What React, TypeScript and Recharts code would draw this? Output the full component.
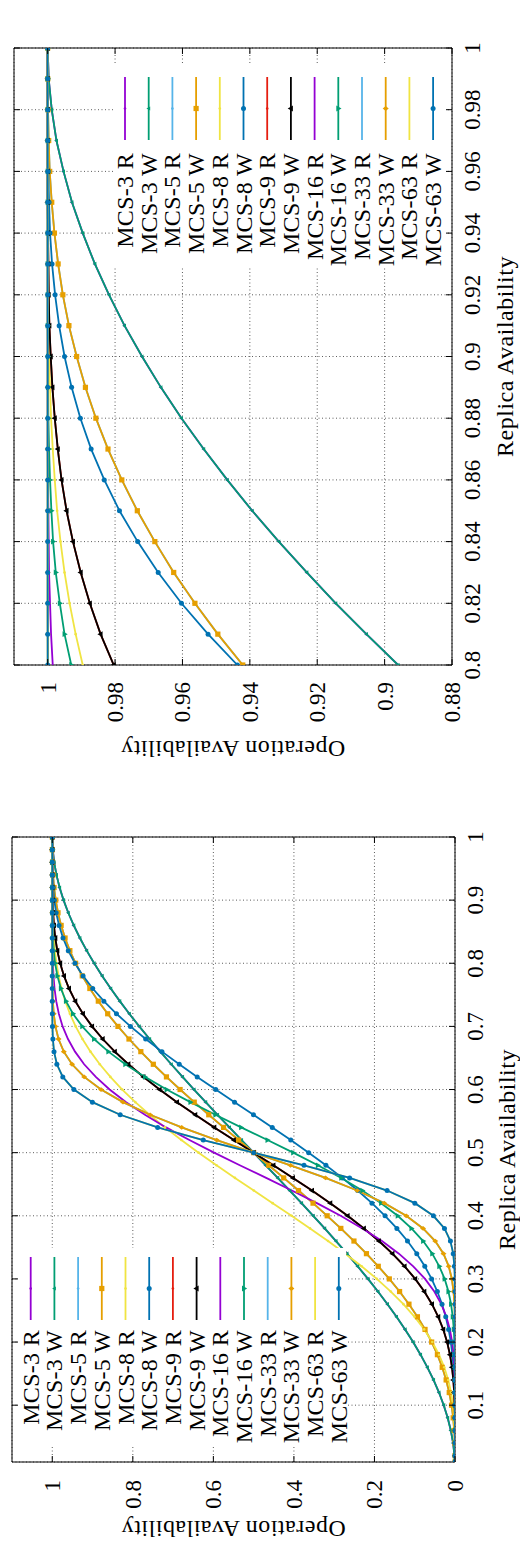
import React from "react";
import { LineChart, Line, XAxis, YAxis, CartesianGrid, ReferenceArea } from "recharts";

const W = 772;
const H = 520;
const FONT = "'Liberation Serif', 'Times New Roman', serif";

// zoomed panel: replica availability 0.8 .. 1
const pZoom = [0.8, 0.81, 0.82, 0.83, 0.84, 0.85, 0.86, 0.87, 0.88, 0.89, 0.9, 0.91, 0.92, 0.93, 0.94, 0.95, 0.96, 0.97, 0.98, 0.99, 1];
const zoomMcs3 = [0.896, 0.9054, 0.9145, 0.9231, 0.9314, 0.9393, 0.9467, 0.9537, 0.9603, 0.9664, 0.972, 0.9772, 0.9818, 0.986, 0.9896, 0.9928, 0.9953, 0.9974, 0.9988, 0.9997, 1];
const zoomMcs5 = [0.9421, 0.9495, 0.9563, 0.9626, 0.9682, 0.9734, 0.978, 0.9821, 0.9857, 0.9888, 0.9914, 0.9937, 0.9955, 0.9969, 0.998, 0.9988, 0.9994, 0.9997, 0.9999, 1, 1];
const zoomMcs8R = [0.9896, 0.9917, 0.9935, 0.995, 0.9962, 0.9972, 0.9979, 0.9985, 0.999, 0.9993, 0.9996, 0.9997, 0.9999, 0.9999, 1, 1, 1, 1, 1, 1, 1];
const zoomMcs8W = [0.9437, 0.9524, 0.9603, 0.9672, 0.9733, 0.9787, 0.9832, 0.9871, 0.9903, 0.9929, 0.995, 0.9966, 0.9978, 0.9987, 0.9993, 0.9996, 0.9998, 1, 1, 1, 1];
const zoomMcs9 = [0.9804, 0.9843, 0.9875, 0.9902, 0.9925, 0.9944, 0.9959, 0.997, 0.9979, 0.9986, 0.9991, 0.9995, 0.9997, 0.9998, 0.9999, 1, 1, 1, 1, 1, 1];
const zoomMcs16R = [0.9985, 0.999, 0.9993, 0.9996, 0.9997, 0.9998, 0.9999, 1, 1, 1, 1, 1, 1, 1, 1, 1, 1, 1, 1, 1, 1];
const zoomMcs16W = [0.993, 0.995, 0.9964, 0.9976, 0.9984, 0.9989, 0.9993, 0.9996, 0.9998, 0.9999, 0.9999, 1, 1, 1, 1, 1, 1, 1, 1, 1, 1];
const zoomMcs33 = [0.99995, 0.99998, 1, 1, 1, 1, 1, 1, 1, 1, 1, 1, 1, 1, 1, 1, 1, 1, 1, 1, 1];
const zoomMcs63 = [1, 1, 1, 1, 1, 1, 1, 1, 1, 1, 1, 1, 1, 1, 1, 1, 1, 1, 1, 1, 1];

// full panel: replica availability 0.01 .. 1
const pFull = [0.01, 0.02, 0.04, 0.06, 0.08, 0.1, 0.12, 0.14, 0.16, 0.18, 0.2, 0.22, 0.24, 0.26, 0.28, 0.3, 0.32, 0.34, 0.36, 0.38, 0.4, 0.42, 0.44, 0.46, 0.48, 0.5, 0.52, 0.54, 0.56, 0.58, 0.6, 0.62, 0.64, 0.66, 0.68, 0.7, 0.72, 0.74, 0.76, 0.78, 0.8, 0.82, 0.84, 0.86, 0.88, 0.9, 0.92, 0.94, 0.96, 0.98, 1];
const fullMcs3 = [0.0003, 0.0012, 0.0047, 0.0104, 0.0182, 0.028, 0.0397, 0.0533, 0.0686, 0.0855, 0.104, 0.1239, 0.1452, 0.1676, 0.1913, 0.216, 0.2417, 0.2682, 0.2955, 0.3235, 0.352, 0.381, 0.4104, 0.4401, 0.47, 0.5, 0.53, 0.5599, 0.5896, 0.619, 0.648, 0.6765, 0.7045, 0.7318, 0.7583, 0.784, 0.8087, 0.8324, 0.8548, 0.8761, 0.896, 0.9145, 0.9314, 0.9467, 0.9603, 0.972, 0.9818, 0.9896, 0.9953, 0.9988, 1];
const fullMcs5 = [0, 0.0001, 0.0006, 0.002, 0.0045, 0.0086, 0.0143, 0.022, 0.0318, 0.0437, 0.0579, 0.0744, 0.0933, 0.1143, 0.1376, 0.1631, 0.1905, 0.2199, 0.2509, 0.2835, 0.3174, 0.3525, 0.3886, 0.4253, 0.4625, 0.5, 0.5375, 0.5747, 0.6114, 0.6475, 0.6826, 0.7165, 0.7491, 0.7801, 0.8095, 0.8369, 0.8624, 0.8857, 0.9067, 0.9256, 0.9421, 0.9563, 0.9682, 0.978, 0.9857, 0.9914, 0.9955, 0.998, 0.9994, 0.9999, 1];
const fullMcs8R = [0, 0, 0.0002, 0.0007, 0.0022, 0.005, 0.0097, 0.0168, 0.0267, 0.0397, 0.0563, 0.0765, 0.1004, 0.1281, 0.1594, 0.1941, 0.2319, 0.2724, 0.3153, 0.3599, 0.4059, 0.4527, 0.4996, 0.5463, 0.5922, 0.6367, 0.6795, 0.7202, 0.7584, 0.7938, 0.8263, 0.8557, 0.882, 0.9051, 0.925, 0.942, 0.9562, 0.9678, 0.977, 0.9842, 0.9896, 0.9935, 0.9962, 0.9979, 0.999, 0.9996, 0.9999, 1, 1, 1, 1];
const fullMcs8W = [0, 0, 0, 0, 0.0001, 0.0004, 0.001, 0.0021, 0.0038, 0.0065, 0.0104, 0.0158, 0.023, 0.0322, 0.0438, 0.058, 0.075, 0.0949, 0.118, 0.1443, 0.1737, 0.2062, 0.2416, 0.2798, 0.3205, 0.3633, 0.4078, 0.4537, 0.5004, 0.5473, 0.5941, 0.6401, 0.6847, 0.7276, 0.7681, 0.8059, 0.8406, 0.8719, 0.8996, 0.9235, 0.9437, 0.9603, 0.9733, 0.9832, 0.9903, 0.995, 0.9978, 0.9993, 0.9998, 1, 1];
const fullMcs9 = [0, 0, 0, 0.0001, 0.0003, 0.0009, 0.0021, 0.0041, 0.0075, 0.0125, 0.0196, 0.0291, 0.0416, 0.0571, 0.0762, 0.0988, 0.1252, 0.1553, 0.189, 0.2262, 0.2666, 0.3097, 0.3551, 0.4024, 0.4509, 0.5, 0.5491, 0.5976, 0.6449, 0.6903, 0.7334, 0.7738, 0.811, 0.8447, 0.8748, 0.9012, 0.9238, 0.9429, 0.9584, 0.9709, 0.9804, 0.9875, 0.9925, 0.9959, 0.9979, 0.9991, 0.9997, 0.9999, 1, 1, 1];
const fullMcs16R = [0, 0, 0, 0, 0, 0.0001, 0.0002, 0.0007, 0.0016, 0.0036, 0.007, 0.0127, 0.0214, 0.034, 0.0514, 0.0744, 0.1037, 0.1393, 0.1813, 0.2302, 0.284, 0.343, 0.4051, 0.4689, 0.5344, 0.5982, 0.6595, 0.7176, 0.7698, 0.8166, 0.8577, 0.8919, 0.9209, 0.9435, 0.961, 0.9743, 0.9837, 0.9902, 0.9944, 0.997, 0.9985, 0.9993, 0.9997, 0.9999, 1, 1, 1, 1, 1, 1, 1];
const fullMcs16W = [0, 0, 0, 0, 0, 0, 0, 0.0001, 0.0003, 0.0007, 0.0015, 0.003, 0.0056, 0.0098, 0.0163, 0.0257, 0.039, 0.0565, 0.0791, 0.1081, 0.1423, 0.1834, 0.2302, 0.2824, 0.3405, 0.4018, 0.4656, 0.5311, 0.5949, 0.657, 0.716, 0.7698, 0.8187, 0.8607, 0.8963, 0.9256, 0.9486, 0.966, 0.9786, 0.9873, 0.993, 0.9964, 0.9984, 0.9993, 0.9998, 0.9999, 1, 1, 1, 1, 1];
const fullMcs33 = [0, 0, 0, 0, 0, 0, 0, 0, 0, 0, 0.0001, 0.0002, 0.0006, 0.0015, 0.0036, 0.0078, 0.0155, 0.0286, 0.0491, 0.0793, 0.1211, 0.1756, 0.2429, 0.3214, 0.4084, 0.5, 0.5916, 0.6786, 0.7571, 0.8244, 0.8789, 0.9207, 0.9509, 0.9714, 0.9845, 0.9922, 0.9964, 0.9985, 0.9994, 0.9998, 0.9999, 1, 1, 1, 1, 1, 1, 1, 1, 1, 1];
const fullMcs63 = [0, 0, 0, 0, 0, 0, 0, 0, 0, 0, 0, 0, 0, 0, 0.0001, 0.0004, 0.0015, 0.0044, 0.0114, 0.0261, 0.0537, 0.0997, 0.1686, 0.2616, 0.3749, 0.5, 0.6251, 0.7384, 0.8314, 0.9003, 0.9463, 0.9739, 0.9886, 0.9956, 0.9985, 0.9996, 0.9999, 1, 1, 1, 1, 1, 1, 1, 1, 1, 1, 1, 1, 1, 1];

const xTicksZoom = [0.8, 0.82, 0.84, 0.86, 0.88, 0.9, 0.92, 0.94, 0.96, 0.98, 1];
const yTicksZoom = [0.88, 0.9, 0.92, 0.94, 0.96, 0.98, 1];
const xTicksFull = [0.1, 0.2, 0.3, 0.4, 0.5, 0.6, 0.7, 0.8, 0.9, 1];
const yTicksFull = [0, 0.2, 0.4, 0.6, 0.8, 1];

const series = [
  { key: "mcs3R", name: "MCS-3 R", color: "#9400d3", shape: "dot" },
  { key: "mcs3W", name: "MCS-3 W", color: "#009e73", shape: "smalltri" },
  { key: "mcs5R", name: "MCS-5 R", color: "#56b4e9", shape: "dot" },
  { key: "mcs5W", name: "MCS-5 W", color: "#e69f00", shape: "square" },
  { key: "mcs8R", name: "MCS-8 R", color: "#f0e442", shape: "dot" },
  { key: "mcs8W", name: "MCS-8 W", color: "#0072b2", shape: "circle" },
  { key: "mcs9R", name: "MCS-9 R", color: "#e51e10", shape: "dot" },
  { key: "mcs9W", name: "MCS-9 W", color: "#000000", shape: "tri" },
  { key: "mcs16R", name: "MCS-16 R", color: "#9400d3", shape: "none" },
  { key: "mcs16W", name: "MCS-16 W", color: "#009e73", shape: "invtri" },
  { key: "mcs33R", name: "MCS-33 R", color: "#56b4e9", shape: "none" },
  { key: "mcs33W", name: "MCS-33 W", color: "#e69f00", shape: "diamond" },
  { key: "mcs63R", name: "MCS-63 R", color: "#f0e442", shape: "none" },
  { key: "mcs63W", name: "MCS-63 W", color: "#0072b2", shape: "circle" },
];

const zoomRows = pZoom.map((p, i) => ({
  p,
  mcs3R: zoomMcs3[i], mcs3W: zoomMcs3[i],
  mcs5R: zoomMcs5[i], mcs5W: zoomMcs5[i],
  mcs8R: zoomMcs8R[i], mcs8W: zoomMcs8W[i],
  mcs9R: zoomMcs9[i], mcs9W: zoomMcs9[i],
  mcs16R: zoomMcs16R[i], mcs16W: zoomMcs16W[i],
  mcs33R: zoomMcs33[i], mcs33W: zoomMcs33[i],
  mcs63R: zoomMcs63[i], mcs63W: zoomMcs63[i],
}));

const fullRows = pFull.map((p, i) => ({
  p,
  mcs3R: fullMcs3[i], mcs3W: fullMcs3[i],
  mcs5R: fullMcs5[i], mcs5W: fullMcs5[i],
  mcs8R: fullMcs8R[i], mcs8W: fullMcs8W[i],
  mcs9R: fullMcs9[i], mcs9W: fullMcs9[i],
  mcs16R: fullMcs16R[i], mcs16W: fullMcs16W[i],
  mcs33R: fullMcs33[i], mcs33W: fullMcs33[i],
  mcs63R: fullMcs63[i], mcs63W: fullMcs63[i],
}));

const fmt = (v: number) => String(Number(v.toFixed(2)));

function marker(shape: string, color: string, cx: number, cy: number, key: any) {
  switch (shape) {
    case "dot":
      return <circle key={key} cx={cx} cy={cy} r={1.3} fill={color} />;
    case "square":
      return <rect key={key} x={cx - 2.6} y={cy - 2.6} width={5.2} height={5.2} fill={color} />;
    case "circle":
      return <circle key={key} cx={cx} cy={cy} r={2.5} fill={color} />;
    case "smalltri":
      return <path key={key} d={`M${cx},${cy - 2.3}L${cx + 2.1},${cy + 1.5}L${cx - 2.1},${cy + 1.5}Z`} fill={color} />;
    case "tri":
      return <path key={key} d={`M${cx},${cy - 3.2}L${cx + 2.9},${cy + 2}L${cx - 2.9},${cy + 2}Z`} fill={color} />;
    case "invtri":
      return <path key={key} d={`M${cx},${cy + 3.2}L${cx + 2.9},${cy - 2}L${cx - 2.9},${cy - 2}Z`} fill={color} />;
    case "diamond":
      return <path key={key} d={`M${cx},${cy - 3}L${cx + 2.4},${cy}L${cx},${cy + 3}L${cx - 2.4},${cy}Z`} fill={color} />;
    default:
      return <g key={key} />;
  }
}

type Box = { left: number; right: number; top: number; bottom: number };
type LegendBox = { x0: number; x1: number; y0: number; y1: number; row0: number; textRight: number; s0: number; s1: number };

function Panel(props: {
  rows: any[];
  xDomain: number[];
  yDomain: number[];
  xTicks: number[];
  yTicks: number[];
  box: Box;
  xLabelY: number;
  xTitleY: number;
  yLabelRight: number;
  yTitleX: number;
  legend: LegendBox;
}) {
  const { rows, xDomain, yDomain, xTicks, yTicks, box, legend } = props;

  const xTick = (t: any) => (
    <g>
      <line x1={t.x} x2={t.x} y1={box.bottom} y2={box.bottom - 6} stroke="#000" />
      <line x1={t.x} x2={t.x} y1={box.top} y2={box.top + 6} stroke="#000" />
      <text x={t.x} y={props.xLabelY} textAnchor="middle" fontSize={23} fontFamily={FONT} fill="#000">
        {fmt(t.payload.value)}
      </text>
    </g>
  );

  const yTick = (t: any) => (
    <g>
      <line x1={box.left} x2={box.left + 6} y1={t.y} y2={t.y} stroke="#000" />
      <line x1={box.right} x2={box.right - 6} y1={t.y} y2={t.y} stroke="#000" />
      <text x={props.yLabelRight} y={t.y + 8} textAnchor="end" fontSize={23} fontFamily={FONT} fill="#000">
        {fmt(t.payload.value)}
      </text>
    </g>
  );

  const midY = (box.top + box.bottom) / 2;

  return (
    <div style={{ position: "relative", width: W, height: H }}>
      <LineChart
        width={W}
        height={H}
        data={rows}
        margin={{ top: box.top, right: W - box.right, bottom: 0, left: 0 }}
      >
        <CartesianGrid stroke="#333" strokeWidth={0.8} strokeDasharray="1 2.5" />
        <XAxis
          dataKey="p"
          type="number"
          domain={xDomain}
          allowDataOverflow
          ticks={xTicks}
          interval={0}
          height={H - box.bottom}
          axisLine={false}
          tickLine={false}
          tick={xTick}
          label={{
            content: () => (
              <text x={(box.left + box.right) / 2} y={props.xTitleY} textAnchor="middle" fontSize={24} letterSpacing={0.5} fontFamily={FONT} fill="#000">
                Replica Availability
              </text>
            ),
          }}
        />
        <YAxis
          type="number"
          domain={yDomain}
          allowDataOverflow
          ticks={yTicks}
          interval={0}
          width={box.left}
          axisLine={false}
          tickLine={false}
          tick={yTick}
          label={{
            content: () => (
              <text
                x={props.yTitleX}
                y={midY}
                transform={`rotate(-90 ${props.yTitleX} ${midY})`}
                textAnchor="middle"
                fontSize={24}
                letterSpacing={0.5}
                fontFamily={FONT}
                fill="#000"
              >
                Operation Availability
              </text>
            ),
          }}
        />
        <ReferenceArea x1={xDomain[0]} x2={xDomain[1]} y1={yDomain[0]} y2={yDomain[1]} fill="none" fillOpacity={0} stroke="#000" strokeWidth={1} />
        {series.map((s) => (
          <Line
            key={s.key}
            type="linear"
            dataKey={s.key}
            name={s.name}
            stroke={s.color}
            strokeWidth={1.8}
            isAnimationActive={false}
            activeDot={false}
            dot={(d: any) => marker(s.shape, s.color, d.cx, d.cy, `${s.key}-${d.index}`)}
          />
        ))}
      </LineChart>
      <svg width={W} height={H} style={{ position: "absolute", left: 0, top: 0, pointerEvents: "none" }}>
        <rect x={legend.x0} y={legend.y0} width={legend.x1 - legend.x0} height={legend.y1 - legend.y0} fill="#fff" />
        {series.map((s, i) => {
          const y = legend.row0 + i * 23.7;
          return (
            <g key={s.key}>
              <text x={legend.textRight} y={y + 8} textAnchor="end" fontSize={24} letterSpacing={0.3} fontFamily={FONT} fill="#000">
                {s.name}
              </text>
              <line x1={legend.s0} x2={legend.s1} y1={y} y2={y} stroke={s.color} strokeWidth={1.8} />
              {marker(s.shape, s.color, (legend.s0 + legend.s1) / 2, y, "m")}
            </g>
          );
        })}
      </svg>
    </div>
  );
}

export default function App() {
  return (
    <div style={{ position: "absolute", left: 0, top: 0, width: 520, height: 1544, background: "#fff", overflow: "hidden", fontFamily: FONT }}>
      <div style={{ position: "absolute", left: 0, top: 0, width: W, height: H, transformOrigin: "0 0", transform: "translate(0px, 772px) rotate(-90deg)" }}>
        <Panel
          rows={zoomRows}
          xDomain={[0.8, 1]}
          yDomain={[0.88, 1.01]}
          xTicks={xTicksZoom}
          yTicks={yTicksZoom}
          box={{ left: 107, right: 724, top: 14, bottom: 452 }}
          xLabelY={480}
          xTitleY={513}
          yLabelRight={90}
          yTitleX={31}
          legend={{ x0: 504, x1: 709, y0: 113, y1: 446, row0: 125, textRight: 619, s0: 632, s1: 695 }}
        />
      </div>
      <div style={{ position: "absolute", left: 0, top: 0, width: W, height: H, transformOrigin: "0 0", transform: "translate(0px, 1544px) rotate(-90deg)" }}>
        <Panel
          rows={fullRows}
          xDomain={[0.01, 1]}
          yDomain={[0, 1.1]}
          xTicks={xTicksFull}
          yTicks={yTicksFull}
          box={{ left: 82, right: 707, top: 12, bottom: 455 }}
          xLabelY={483}
          xTitleY={515}
          yLabelRight={64}
          yTitleX={23}
          legend={{ x0: 97, x1: 296, y0: 19, y1: 346, row0: 30.7, textRight: 214, s0: 224, s1: 287 }}
        />
      </div>
    </div>
  );
}
